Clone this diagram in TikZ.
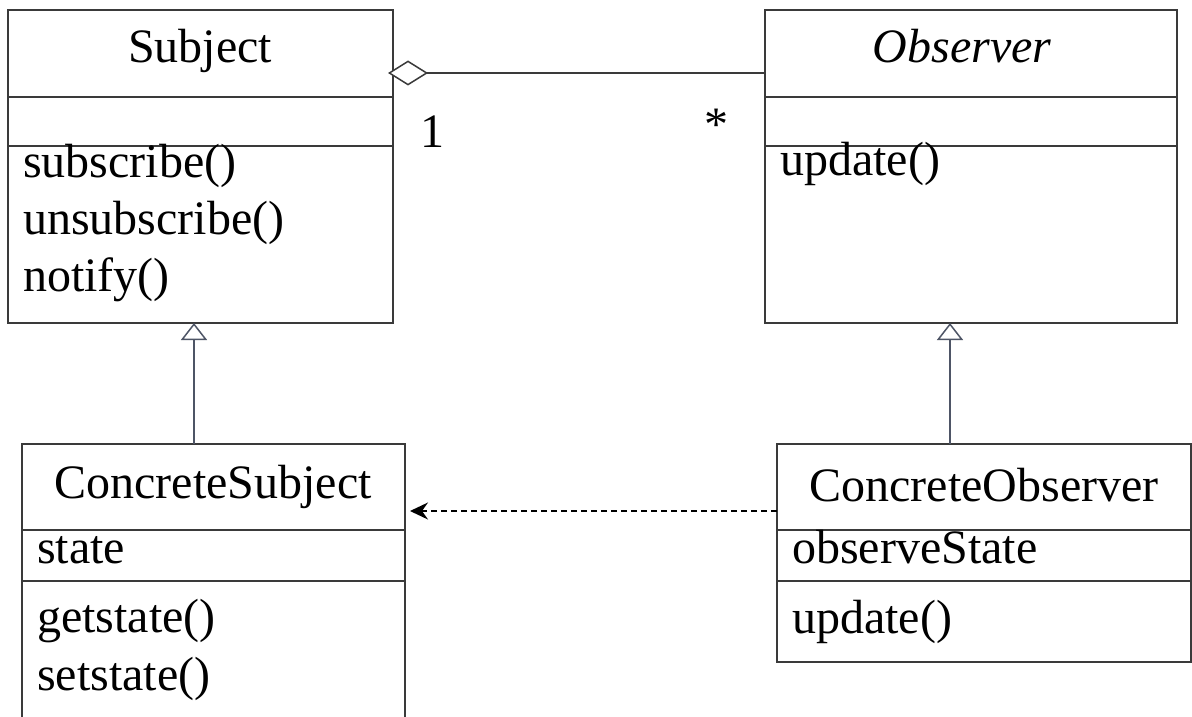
\documentclass[tikz,border=0pt]{standalone}
\usepackage{fontspec}
\setmainfont{Liberation Serif}
\usetikzlibrary{arrows.meta}
\definecolor{boxline}{HTML}{3A3A3A}
\definecolor{conn}{HTML}{4E5566}
\begin{document}
\begin{tikzpicture}[x=1pt,y=-1pt,
  classbox/.style={draw=boxline,line width=1.5pt,anchor=north west,inner sep=0pt,outer sep=0pt},
  divider/.style={draw=boxline,line width=1.5pt},
  txt/.style={inner sep=0pt,font=\fontsize{48}{57}\selectfont},
  lefttxt/.style={txt,anchor=base west},
  midtxt/.style={txt,anchor=base},
  genl/.style={draw=conn,line width=1.5pt,-{Triangle[open,length=17pt,width=26pt,fill=white]}},
  aggr/.style={draw=boxline,line width=1.5pt,{Diamond[open,length=40pt,width=25pt,fill=white]}-},
  dep/.style={draw=black,line width=1.5pt,dash pattern=on 6pt off 4pt,-{Stealth[length=18pt,width=17pt,inset=6pt]}},
]
\useasboundingbox (0,0) rectangle (1192,717);
\fill[white] (0,0) rectangle (1192,717);

% Subject
\node[classbox,minimum width=385pt,minimum height=313pt] (subject) at (8,10) {};
\draw[divider] (8,97) -- (393,97);
\draw[divider] (8,146) -- (393,146);
\node[midtxt] (subjectname) at (200,63) {Subject};
\node[lefttxt] (sub1) at (23,177) {subscribe()};
\node[lefttxt] (sub2) at (23,234) {unsubscribe()};
\node[lefttxt] (sub3) at (23,291) {notify()};

% Observer
\node[classbox,minimum width=412pt,minimum height=313pt] (observer) at (765,10) {};
\draw[divider] (765,97) -- (1177,97);
\draw[divider] (765,146) -- (1177,146);
\node[midtxt] (observername) at (962,63) {\itshape Observer};
\node[lefttxt] (obs1) at (780,175) {update()};

% ConcreteSubject
\node[classbox,minimum width=383pt,minimum height=320pt] (csubject) at (22,444) {};
\draw[divider] (22,530) -- (405,530);
\draw[divider] (22,581) -- (405,581);
\node[midtxt] (csubjectname) at (213,498) {ConcreteSubject};
\node[lefttxt] (cs1) at (37,563) {state};
\node[lefttxt] (cs2) at (37,632) {getstate()};
\node[lefttxt] (cs3) at (37,690) {setstate()};

% ConcreteObserver
\node[classbox,minimum width=414pt,minimum height=218pt] (cobserver) at (777,444) {};
\draw[divider] (777,530) -- (1191,530);
\draw[divider] (777,581) -- (1191,581);
\node[midtxt] (cobservername) at (984,501) {ConcreteObserver};
\node[lefttxt] (co1) at (792,563) {observeState};
\node[lefttxt] (co2) at (792,633) {update()};

% connectors
\coordinate (aggstart) at (388,73);
\draw[aggr] (aggstart) -- (aggstart -| observer.west);
\node[txt,anchor=base] (mult1) at (432,147) {1};
\node[txt,anchor=base] (multstar) at (716,140) {*};

\draw[genl] (csubject.north -| 194,0) -- (subject.south -| 194,0);
\draw[genl] (cobserver.north -| 950,0) -- (observer.south -| 950,0);

\coordinate (depend) at (410,511);
\draw[dep] (cobserver.west |- depend) -- (depend);
\end{tikzpicture}
\end{document}
